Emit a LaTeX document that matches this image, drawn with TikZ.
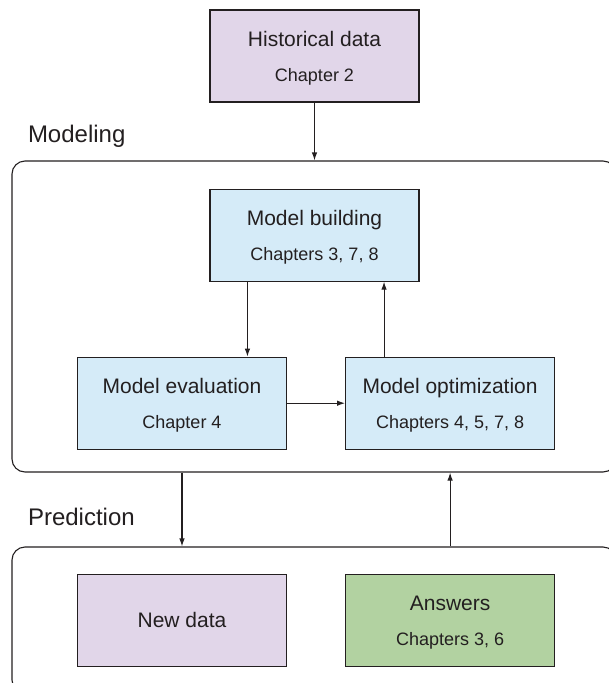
\documentclass[tikz,border=0pt]{standalone}
\usepackage{fontspec}
\setmainfont{Liberation Sans}
\usepackage{tikz}
\usetikzlibrary{positioning,arrows.meta}
\definecolor{lilac}{RGB}{225,214,233}
\definecolor{paleblue}{RGB}{213,235,248}
\definecolor{sage}{RGB}{178,210,161}
\definecolor{ink}{RGB}{35,31,32}
\newcommand{\chaps}[1]{{\fontsize{18}{25}\selectfont #1}}

\begin{document}
\begin{tikzpicture}[x=1pt, y=1pt, node distance=58pt, color=ink, line width=1.1pt,
    font=\fontsize{21}{25}\selectfont,
    >={Latex[length=8pt,width=5.5pt]},
    box/.style={draw, rectangle, minimum width=209pt, minimum height=92pt, inner sep=0pt, text depth=0pt, align=center},
    frame/.style={draw, rectangle, rounded corners=13pt, minimum width=604pt, inner sep=0pt},
    stage/.style={inner sep=0pt, text depth=0pt, font=\fontsize{24}{28}\selectfont}]
				\useasboundingbox (0,0) rectangle (609,-683);

				\node[box, fill=lilac] (hist) at (314.5,-56) {Historical data\\[10pt]\chaps{Chapter 2}};
				\node[frame, minimum height=311pt] (modeling) at (314,-316.5) {};
				\node[frame, minimum height=146pt] (prediction) at (314,-620) {};
				\node[stage, above right=17pt and 16pt of modeling.north west] (modlbl) {Modeling};
				\node[stage, above right=20pt and 16pt of prediction.north west] (predlbl) {Prediction};

				\node[box, fill=paleblue, below=86pt of hist] (build) {Model building\\[10pt]\chaps{Chapters 3, 7, 8}};
				\node[box, fill=paleblue, below=75pt of build, xshift=-132.5pt] (eval) {Model evaluation\\[10pt]\chaps{Chapter 4}};
				\node[box, fill=paleblue, right=of eval] (opt) {Model optimization\\[10pt]\chaps{Chapters 4, 5, 7, 8}};
				\node[box, fill=lilac, below=124pt of eval] (newdata) {New data};
				\node[box, fill=sage, right=of newdata] (answers) {Answers\\[10pt]\chaps{Chapters 3, 6}};

				\draw[->] (hist) -- (hist |- modeling.north);
				\draw[->] ([xshift=38pt]build.south west) coordinate (bdown) -- (bdown |- eval.north);
				\draw[->] ([xshift=39pt]opt.north west) coordinate (oup) -- (oup |- build.south);
				\draw[->] (eval) -- (opt);
				\draw[->] (eval |- modeling.south) -- (eval |- prediction.north);
				\draw[->] (answers |- prediction.north) -- (answers |- modeling.south);
			\end{tikzpicture}
\end{document}
